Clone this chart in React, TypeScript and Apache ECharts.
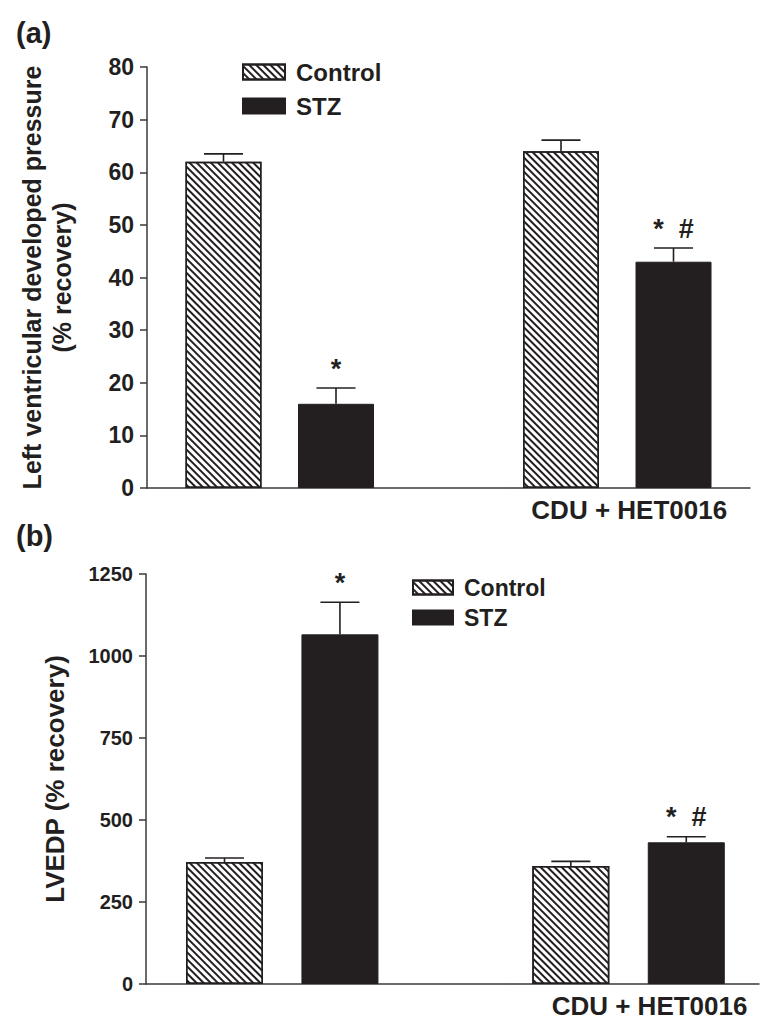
import React, { useEffect, useRef } from "react";
import * as echarts from "echarts";

// ---------- data ----------
const groupNames = ["", "CDU + HET0016"];
const seriesNames = ["Control", "STZ"];

// panel (a): LV developed pressure (% recovery)
const lvdpControl = [62, 64];
const lvdpControlErr = [1.5, 2.1];
const lvdpStz = [16, 43];
const lvdpStzErr = [3, 2.6];
const lvdpControlSig = ["", ""];
const lvdpStzSig = ["*", "*  #"];
const lvdpTicks = { min: 0, max: 80, interval: 10 };

// panel (b): LVEDP (% recovery)
const lvedpControl = [372, 360];
const lvedpControlErr = [12, 14];
const lvedpStz = [1066, 432];
const lvedpStzErr = [98, 17];
const lvedpControlSig = ["", ""];
const lvedpStzSig = ["*", "*  #"];
const lvedpTicks = { min: 0, max: 1250, interval: 250 };

// ---------- style ----------
const FONT = "'Liberation Sans', Arial, Helvetica, sans-serif";
const INK = "#231f20";
const AXIS = "#3a3a3a";

// slot of a bar: group g, series s -> g*3 + s + 1
const slot = (g: number, s: number) => g * 3 + s + 1;

const hatch = {
  symbol: "rect",
  symbolSize: 1,
  color: INK,
  backgroundColor: "#ffffff",
  dashArrayX: [1, 0],
  dashArrayY: [1.6, 2.6],
  rotation: Math.PI / 4,
};

function barData(values: number[], s: number) {
  return values.map((v, g) => [slot(g, s), v]);
}

function errData(values: number[], errs: number[], s: number) {
  return values.map((v, g) => [slot(g, s), v, errs[g]]);
}

function errRender(capHalf: number, sigFont: number, sigs: string[]) {
  return (params: any, api: any) => {
    const x = api.value(0);
    const v = api.value(1);
    const e = api.value(2);
    const sig = sigs[params.dataIndex] || "";
    const p0 = api.coord([x, v]);
    const p1 = api.coord([x, v + e]);
    const children: any[] = [
      {
        type: "line",
        shape: { x1: p0[0], y1: p0[1], x2: p1[0], y2: p1[1] },
        style: { stroke: INK, lineWidth: 1.6 },
      },
      {
        type: "line",
        shape: { x1: p1[0] - capHalf, y1: p1[1], x2: p1[0] + capHalf, y2: p1[1] },
        style: { stroke: INK, lineWidth: 1.6 },
      },
    ];
    if (sig) {
      children.push({
        type: "text",
        x: p1[0],
        y: p1[1] - 33,
        style: {
          text: sig,
          fill: INK,
          font: `bold ${sigFont}px ${FONT}`,
          textAlign: "center",
          textVerticalAlign: "top",
        },
      });
    }
    return { type: "group", children };
  };
}

function buildOption() {
  const yAxisCommon = (fontSize: number, nameSize: number) => ({
    type: "value",
    axisLine: { show: true, lineStyle: { color: AXIS, width: 1.5 } },
    axisTick: { show: true, length: 7, lineStyle: { color: AXIS, width: 1.5 } },
    axisLabel: {
      color: INK,
      fontSize,
      fontWeight: "bold",
      fontFamily: FONT,
      margin: 13,
      formatter: (v: number) => String(v),
    },
    splitLine: { show: false },
    nameLocation: "middle",
    nameRotate: 90,
    nameTextStyle: {
      color: INK,
      fontSize: nameSize,
      fontWeight: "bold",
      fontFamily: FONT,
      lineHeight: 30,
    },
  });

  const xAxisCommon = (min: number, max: number, shift: number) => ({
    type: "value",
    min,
    max,
    axisLine: { show: true, onZero: false, lineStyle: { color: AXIS, width: 1.5 } },
    axisTick: { show: false },
    splitLine: { show: false },
    axisLabel: {
      customValues: [slot(0, 0) + 0.5, slot(1, 0) + 0.5],
      formatter: (val: number) => {
        const g = Math.round((val - 1.5) / 3);
        return groupNames[g] ?? "";
      },
      color: INK,
      fontSize: 26,
      fontWeight: "bold",
      fontFamily: FONT,
      margin: 9,
      padding: [0, 0, 0, shift * 2],
    },
  });

  const legendCommon = {
    data: seriesNames,
    orient: "vertical",
    icon: "rect",
    padding: 0,
    selectedMode: false,
    textStyle: {
      color: INK,
      fontWeight: "bold",
      fontFamily: FONT,
      padding: [0, 0, 0, 6],
    },
  };

  const controlStyle = {
    color: "#ffffff",
    borderColor: INK,
    borderWidth: 1.5,
    decal: hatch,
  };
  const stzStyle = { color: INK, borderColor: INK, borderWidth: 1 };

  return {
    animation: false,
    backgroundColor: "#ffffff",
    textStyle: { fontFamily: FONT },
    graphic: [
      {
        type: "text",
        left: 16,
        top: 18,
        style: { text: "(a)", fill: INK, font: `bold 29px ${FONT}` },
      },
      {
        type: "text",
        left: 16,
        top: 521,
        style: { text: "(b)", fill: INK, font: `bold 29px ${FONT}` },
      },
    ],
    legend: [
      {
        ...legendCommon,
        left: 242,
        top: 60,
        itemWidth: 42,
        itemHeight: 15,
        itemGap: 10,
        textStyle: { ...legendCommon.textStyle, fontSize: 24, lineHeight: 24 },
      },
      {
        ...legendCommon,
        left: 412,
        top: 576,
        itemWidth: 40,
        itemHeight: 14,
        itemGap: 7,
        textStyle: { ...legendCommon.textStyle, fontSize: 23, lineHeight: 23 },
      },
    ],
    grid: [
      { left: 147, top: 67, right: 27, height: 421 },
      { left: 146, top: 574, right: 18, height: 410 },
    ],
    xAxis: [
      { ...xAxisCommon(0.32, 5.68, 12), gridIndex: 0 },
      { ...xAxisCommon(0.32, 5.63, 21), gridIndex: 1 },
    ],
    yAxis: [
      {
        ...yAxisCommon(23, 25),
        gridIndex: 0,
        ...lvdpTicks,
        name: "Left ventricular developed pressure\n(% recovery)",
        nameGap: 70,
      },
      {
        ...yAxisCommon(20, 26),
        gridIndex: 1,
        ...lvedpTicks,
        name: "LVEDP (% recovery)",
        nameGap: 76,
      },
    ],
    series: [
      {
        name: "Control",
        type: "bar",
        xAxisIndex: 0,
        yAxisIndex: 0,
        barWidth: 76,
        barGap: "-100%",
        data: barData(lvdpControl, 0),
        itemStyle: controlStyle,
      },
      {
        name: "STZ",
        type: "bar",
        xAxisIndex: 0,
        yAxisIndex: 0,
        barWidth: 76,
        barGap: "-100%",
        data: barData(lvdpStz, 1),
        itemStyle: stzStyle,
      },
      {
        name: "Control",
        type: "bar",
        xAxisIndex: 1,
        yAxisIndex: 1,
        barWidth: 77,
        barGap: "-100%",
        data: barData(lvedpControl, 0),
        itemStyle: controlStyle,
      },
      {
        name: "STZ",
        type: "bar",
        xAxisIndex: 1,
        yAxisIndex: 1,
        barWidth: 77,
        barGap: "-100%",
        data: barData(lvedpStz, 1),
        itemStyle: stzStyle,
      },
      {
        type: "custom",
        xAxisIndex: 0,
        yAxisIndex: 0,
        clip: false,
        renderItem: errRender(19.5, 27, [...lvdpControlSig, ...lvdpStzSig]),
        data: [
          ...errData(lvdpControl, lvdpControlErr, 0),
          ...errData(lvdpStz, lvdpStzErr, 1),
        ],
        z: 5,
      },
      {
        type: "custom",
        xAxisIndex: 1,
        yAxisIndex: 1,
        clip: false,
        renderItem: errRender(19.5, 27, [...lvedpControlSig, ...lvedpStzSig]),
        data: [
          ...errData(lvedpControl, lvedpControlErr, 0),
          ...errData(lvedpStz, lvedpStzErr, 1),
        ],
        z: 5,
      },
    ],
  };
}

export default function App() {
  const ref = useRef<HTMLDivElement>(null);
  useEffect(() => {
    if (!ref.current) return;
    const chart = echarts.init(ref.current, undefined, { renderer: "svg" });
    chart.setOption(buildOption() as any);
    return () => chart.dispose();
  }, []);
  return (
    <div
      ref={ref}
      style={{ position: "absolute", left: 0, top: 0, width: 777, height: 1034, background: "#fff" }}
    />
  );
}
